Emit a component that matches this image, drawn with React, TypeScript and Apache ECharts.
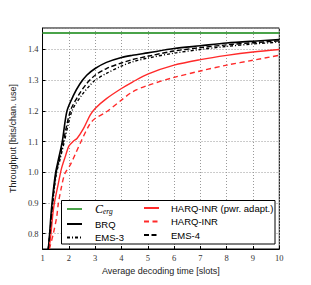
import React, { useEffect, useRef } from "react";
import * as echarts from "echarts";

const xTicks = [1, 2, 3, 4, 5, 6, 7, 8, 9, 10];
const cergValue = 1.454;

const brqX = [1.22, 1.27, 1.33, 1.41, 1.5, 1.6, 1.75, 1.93, 2.18, 2.43, 2.68, 3.0, 3.43, 4.0, 4.42, 5, 6, 7, 8, 9, 10];
const brqY = [0.75, 0.8, 0.87, 0.94, 1.0, 1.04, 1.1, 1.2, 1.251, 1.289, 1.316, 1.338, 1.358, 1.374, 1.381, 1.389, 1.403, 1.412, 1.421, 1.427, 1.432];

const ems4X = [1.22, 1.28, 1.35, 1.43, 1.52, 1.63, 1.79, 2.06, 2.37, 2.68, 3.0, 3.43, 4.0, 4.42, 5, 6, 7, 8, 9, 10];
const ems4Y = [0.75, 0.8, 0.87, 0.94, 1.0, 1.04, 1.1, 1.2, 1.251, 1.289, 1.316, 1.338, 1.356, 1.367, 1.378, 1.395, 1.406, 1.415, 1.422, 1.428];

const ems3X = [1.22, 1.28, 1.36, 1.44, 1.54, 1.66, 1.83, 2.12, 2.49, 2.81, 3.0, 3.43, 4.0, 4.42, 5, 6, 7, 8, 9, 10];
const ems3Y = [0.75, 0.8, 0.87, 0.94, 1.0, 1.04, 1.1, 1.2, 1.251, 1.284, 1.3, 1.322, 1.346, 1.36, 1.372, 1.388, 1.4, 1.41, 1.418, 1.424];

const harqPwrX = [1.25, 1.32, 1.4, 1.47, 1.6, 1.72, 1.88, 2.0, 2.18, 2.31, 2.56, 2.81, 3.0, 3.43, 4.0, 4.42, 5, 6, 7, 8, 9, 10];
const harqPwrY = [0.75, 0.8, 0.87, 0.909, 0.963, 1.012, 1.055, 1.085, 1.102, 1.11, 1.143, 1.186, 1.208, 1.24, 1.273, 1.294, 1.32, 1.349, 1.367, 1.381, 1.392, 1.4];

const harqX = [1.26, 1.41, 1.54, 1.6, 1.72, 1.85, 2.06, 2.25, 2.49, 2.81, 3.0, 3.43, 4.0, 4.42, 5, 6, 7, 8, 9, 10];
const harqY = [0.75, 0.8, 0.855, 0.898, 0.952, 0.996, 1.025, 1.06, 1.105, 1.159, 1.175, 1.197, 1.235, 1.262, 1.283, 1.309, 1.33, 1.349, 1.365, 1.381];

const pairs = (xs: number[], ys: number[]) => xs.map((x, i) => [x, ys[i]]);

const GREEN = "#4aa34a";
const RED = "#ff2a2a";
const BLACK = "#000000";
const SERIF = "'Liberation Serif', 'DejaVu Serif', serif";
const SANS = "'Liberation Sans', Arial, sans-serif";

export default function App() {
  const ref = useRef<HTMLDivElement>(null);
  useEffect(() => {
    if (!ref.current) return;
    const chart = echarts.init(ref.current, undefined, { renderer: "svg" });
    const lineSeries = (name: string, data: number[][], color: string, type: any, width: number) => ({
      name,
      type: "line",
      data,
      symbol: "none",
      smooth: 0.3,
      lineStyle: { color, width, type },
      itemStyle: { color },
      z: 3,
    });
    const legendBase = {
      orient: "vertical",
      top: 203,
      padding: 0,
      z: 100,
      itemWidth: 15,
      itemHeight: 10,
      itemGap: 3.5,
      itemStyle: { opacity: 0 },
    };
    chart.setOption({
      animation: false,
      backgroundColor: "#fff",
      grid: { left: 38.3, top: 28, right: 31.7, bottom: 36, show: true, borderColor: "#000", borderWidth: 1, containLabel: false },
      xAxis: {
        type: "value",
        min: xTicks[0],
        max: xTicks[xTicks.length - 1],
        interval: 1,
        name: "Average decoding time [slots]",
        nameLocation: "middle",
        nameGap: 13,
        nameTextStyle: { fontFamily: SANS, fontSize: 9, color: "#222" },
        axisLine: { lineStyle: { color: "#000", width: 1 } },
        axisTick: { inside: true, length: 3, lineStyle: { color: "#000" } },
        axisLabel: { fontFamily: SERIF, fontSize: 8.5, color: "#333", margin: 4 },
        splitLine: { show: true, lineStyle: { color: "#999", type: [1, 2], width: 1 } },
      },
      yAxis: {
        type: "value",
        min: 0.75,
        max: 1.47,
        splitNumber: 7,
        name: "Throughput [bits/chan. use]",
        nameLocation: "middle",
        nameGap: 23,
        nameRotate: 90,
        nameTextStyle: { fontFamily: SANS, fontSize: 9, color: "#222" },
        axisLine: { show: true, lineStyle: { color: "#000", width: 1 } },
        axisTick: { inside: true, length: 3, lineStyle: { color: "#000" } },
        axisLabel: {
          fontFamily: SERIF,
          fontSize: 8.5,
          color: "#333",
          margin: 4,
          showMinLabel: false,
          showMaxLabel: false,
          formatter: (v: number) => v.toFixed(1),
        },
        splitLine: { show: true, lineStyle: { color: "#999", type: [1, 2], width: 1 } },
      },
      legend: [
        {
          ...legendBase,
          left: 66,
          data: ["Cerg", "BRQ", "EMS-3"],
          formatter: (n: string) => (n === "Cerg" ? "{i|C}{s|erg}" : n),
          textStyle: {
            fontFamily: SANS,
            fontSize: 9.5,
            color: "#000",
            padding: [0, 0, 0, 8],
            rich: {
              i: { fontFamily: SERIF, fontStyle: "italic", fontSize: 12, color: "#000" },
              s: { fontFamily: SERIF, fontStyle: "italic", fontSize: 7.5, color: "#000", padding: [5, 0, 0, 0] },
            },
          },
        },
        {
          ...legendBase,
          left: 143,
          data: ["HARQ-INR (pwr. adapt.)", "HARQ-INR", "EMS-4"],
          textStyle: { fontFamily: SANS, fontSize: 9.5, color: "#000", padding: [0, 0, 0, 7] },
        },
      ],
      graphic: [
        {
          type: "rect",
          shape: { x: 61.5, y: 200.5, width: 213.5, height: 43.5 },
          style: { fill: "#fff", stroke: "#000", lineWidth: 1 },
          z: 50,
        },
      ],
      series: [
        {
          ...lineSeries("Cerg", [[xTicks[0], cergValue], [xTicks[xTicks.length - 1], cergValue]], GREEN, "solid", 2),
          smooth: false,
        },
        lineSeries("BRQ", pairs(brqX, brqY), BLACK, "solid", 1.6),
        lineSeries("EMS-3", pairs(ems3X, ems3Y), BLACK, [3, 2, 1, 2], 1.4),
        lineSeries("HARQ-INR (pwr. adapt.)", pairs(harqPwrX, harqPwrY), RED, "solid", 1.4),
        lineSeries("HARQ-INR", pairs(harqX, harqY), RED, [5, 3.5], 1.4),
        lineSeries("EMS-4", pairs(ems4X, ems4Y), BLACK, [5, 2.5], 1.4),
      ],
    });
    return () => chart.dispose();
  }, []);
  return <div ref={ref} style={{ position: "fixed", left: 0, top: 0, width: 311, height: 285 }} />;
}
